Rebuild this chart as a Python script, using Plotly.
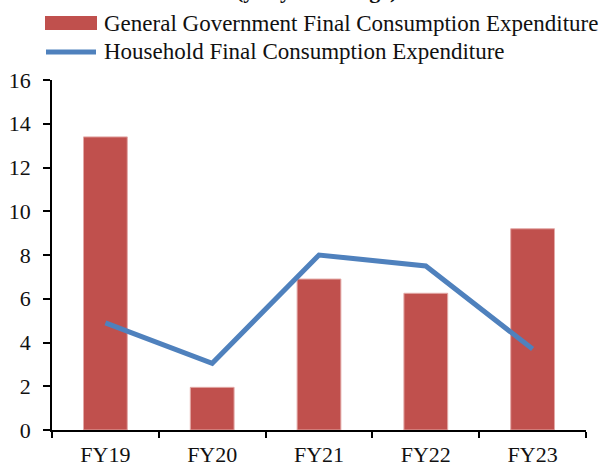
import plotly.graph_objects as go

categories = ["FY19", "FY20", "FY21", "FY22", "FY23"]
govt_values = [13.4, 1.95, 6.9, 6.25, 9.2]
household_values = [4.9, 3.05, 8.0, 7.5, 3.7]
y_ticks = [0, 2, 4, 6, 8, 10, 12, 14, 16]

BAR_COLOR = "#C0504D"
LINE_COLOR = "#4F81BD"
FONT = "Liberation Serif"

PW, PH = 613, 466
# plot area in page pixels
L, R, T, B = 52, 586, 80, 430

def px(x):
    return (x - L) / (R - L)

def py(y):
    return (B - y) / (B - T)

fig = go.Figure()
fig.add_trace(go.Bar(
    x=categories, y=govt_values, name="General Government Final Consumption Expenditure",
    marker=dict(color=BAR_COLOR, line=dict(color="#E3A9A7", width=1)),
    showlegend=False,
))
fig.add_trace(go.Scatter(
    x=categories, y=household_values, name="Household Final Consumption Expenditure",
    mode="lines", line=dict(color=LINE_COLOR, width=5),
    showlegend=False,
))

shapes = [
    dict(type="rect", xref="paper", yref="paper", x0=px(45), x1=px(97), y0=py(30), y1=py(16),
         fillcolor=BAR_COLOR, line=dict(width=0)),
    dict(type="line", xref="paper", yref="paper", x0=px(46), x1=px(96), y0=py(52), y1=py(52),
         line=dict(color=LINE_COLOR, width=5)),
]
annotations = [
    dict(text="General Government Final Consumption Expenditure", xref="paper", yref="paper",
         x=px(102), y=py(23), xanchor="left", yanchor="middle", showarrow=False,
         font=dict(family=FONT, size=23, color="#111")),
    dict(text="Household Final Consumption Expenditure", xref="paper", yref="paper",
         x=px(102), y=py(52), xanchor="left", yanchor="middle", showarrow=False,
         font=dict(family=FONT, size=23, color="#111")),
    dict(text="<b>(y-o-y % change)</b>", xref="paper", yref="paper",
         x=px(316), y=py(5), xanchor="center", yanchor="bottom", showarrow=False,
         font=dict(family=FONT, size=22, color="#111")),
]

fig.update_layout(
    width=PW, height=PH,
    margin=dict(l=L, r=PW - R, t=T, b=PH - B, pad=0, autoexpand=False),
    paper_bgcolor="white", plot_bgcolor="white",
    font=dict(family=FONT, size=22, color="#111"),
    bargap=0.59,
    shapes=shapes, annotations=annotations,
    xaxis=dict(
        type="category", showline=True, linecolor="black", linewidth=1.5,
        ticks="outside", tickson="boundaries", ticklen=6, tickwidth=1.5, tickcolor="black",
        showgrid=False, zeroline=False, tickfont=dict(size=22), ticklabelstandoff=4,
        automargin=False,
    ),
    yaxis=dict(
        range=[0, 16], tickvals=y_ticks, showline=True, linecolor="black", linewidth=1.5,
        ticks="outside", ticklen=7, tickwidth=1.5, tickcolor="black",
        showgrid=False, zeroline=False, tickfont=dict(size=22), ticklabelstandoff=8,
        automargin=False,
    ),
)

fig.write_html(
    "out.html",
    config={"displayModeBar": False},
    post_script="document.body.style.margin='0';document.body.style.overflow='hidden';",
)
